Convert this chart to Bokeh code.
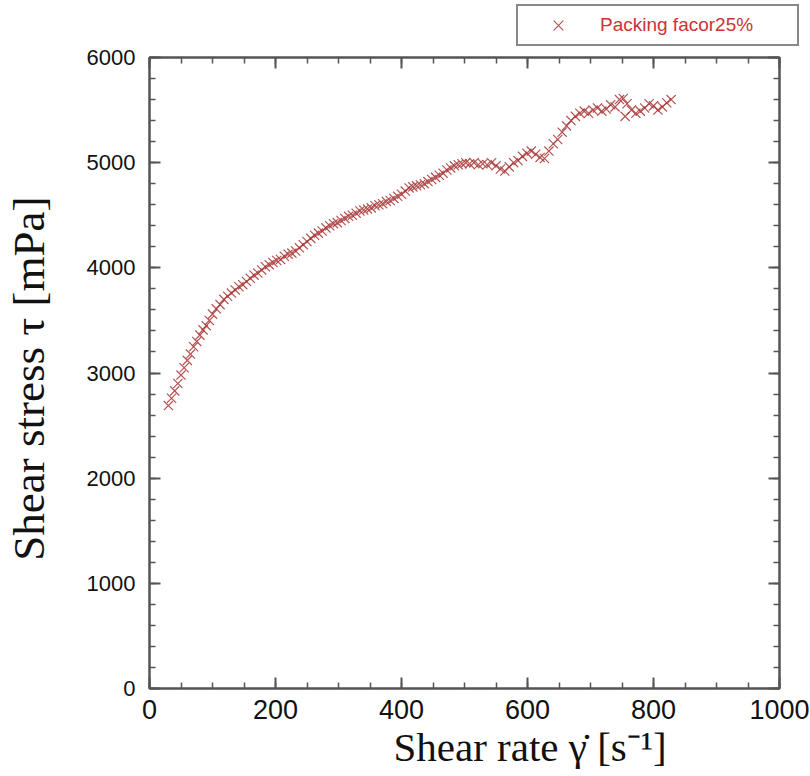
from bokeh.plotting import figure
from bokeh.layouts import column
from bokeh.models import (Range1d, LinearAxis, SingleIntervalTicker, Legend, LegendItem,
                          ColumnDataSource, Title)
from bokeh.embed import file_html
from bokeh.resources import INLINE

# Data
shear_rate = [30, 35, 40, 45, 50, 55, 60, 65, 70, 75, 80, 85, 90, 95, 100, 106, 112, 118, 124, 130,
              136, 142, 148, 154, 160, 166, 172, 178, 184, 190, 196, 202, 208, 214, 220,
              226, 232, 238, 244, 250, 256, 262, 268, 274, 280, 286, 292, 298, 304, 310, 316,
              322, 328, 334, 340, 346, 352, 358, 364, 370, 376, 382, 388, 394, 400, 406, 412,
              418, 424, 430, 436, 442, 448, 454, 460, 466, 472, 478, 484, 490, 496, 502,
              508, 515, 522, 529, 536, 543, 550, 557, 564, 571, 578, 585, 592, 599, 606, 613,
              620, 627, 634, 641, 648, 655, 662, 669, 676, 683, 690, 697, 704, 711, 718, 725,
              732, 739, 746, 752, 755, 758, 765, 772, 779, 786, 793, 800, 807, 814, 821, 828]
shear_stress = [2690, 2760, 2830, 2900, 2980, 3050, 3120, 3180, 3250, 3300, 3360, 3410, 3450, 3500,
                3560, 3610, 3650, 3700, 3730, 3760, 3790, 3820, 3840, 3870, 3900, 3930, 3950,
                3980, 4010, 4030, 4050, 4070, 4080, 4110, 4130,
                4140, 4160, 4190, 4220, 4250, 4280, 4310, 4330, 4350, 4380, 4400, 4420, 4430,
                4450, 4470, 4490, 4500, 4520, 4540, 4550, 4560, 4570, 4590, 4600, 4610, 4630,
                4640, 4660, 4680, 4700, 4730, 4760, 4770, 4780, 4790, 4800, 4820, 4840, 4860,
                4880, 4900, 4930, 4950, 4970, 4980, 4990, 5000,
                4990, 5000, 4980, 4990, 4980, 5000, 4970, 4940, 4920, 4960, 5000, 5020, 5060,
                5090, 5110, 5080, 5050, 5040, 5110, 5180, 5220, 5290, 5350, 5400, 5440, 5470,
                5490, 5470, 5500, 5520, 5490, 5510, 5550, 5530, 5600, 5610, 5440, 5560, 5500,
                5470, 5490, 5520, 5560, 5540, 5500, 5530, 5570, 5600]
series_label = "Packing facor25%"
x_title = "Shear rate  \u03b3\u0307 [s\u207b\u00b9]"
y_title = "Shear stress  \u03c4 [mPa]"

marker_color = "#a83636"

src = ColumnDataSource(dict(x=shear_rate, y=shear_stress))

# ---- main plot ----
p = figure(frame_width=630, frame_height=631, output_backend="svg", toolbar_location=None,
           x_range=Range1d(0, 1000), y_range=Range1d(0, 6000),
           min_border_left=148, min_border_right=32, min_border_top=11, min_border_bottom=80)
p.xgrid.visible = False
p.ygrid.visible = False
p.outline_line_color = "#555555"
p.outline_line_width = 2
p.background_fill_color = "white"
p.border_fill_color = "white"

r = p.scatter("x", "y", source=src, marker="x", size=13, line_color=marker_color,
              line_alpha=0.85, line_width=1.2)

axis_color = "#555555"

def style_axis(ax, label_size):
    ax.axis_line_color = axis_color
    ax.axis_line_width = 2
    ax.major_tick_line_color = axis_color
    ax.minor_tick_line_color = axis_color
    ax.major_tick_line_width = 2
    ax.minor_tick_line_width = 1.5
    ax.major_tick_in = 11
    ax.major_tick_out = 0
    ax.minor_tick_in = 6
    ax.minor_tick_out = 0
    ax.major_label_text_font = "Liberation Sans"
    ax.major_label_text_font_size = label_size
    ax.major_label_text_color = "#111111"

xa = p.xaxis[0]
xa.ticker = SingleIntervalTicker(interval=200, num_minor_ticks=4)
style_axis(xa, "27px")
xa.major_label_standoff = 11

ya = p.yaxis[0]
ya.ticker = SingleIntervalTicker(interval=1000, num_minor_ticks=5)
style_axis(ya, "22px")
ya.major_label_standoff = 14
ya.axis_label = y_title
ya.axis_label_text_font = "Liberation Serif"
ya.axis_label_text_font_size = "45px"
ya.axis_label_text_font_style = "normal"
ya.axis_label_text_color = "#111111"
ya.axis_label_standoff = 30

# x-axis title, placed below the tick labels (shifted right as in the reference)
xtitle = Title(text=x_title, align="left", offset=244, standoff=0,
               text_font="Liberation Serif", text_font_size="41px",
               text_font_style="normal", text_color="#111111")
p.add_layout(xtitle, "below")

top = LinearAxis(ticker=SingleIntervalTicker(interval=200, num_minor_ticks=4))
style_axis(top, "0px")
top.major_label_standoff = 0
p.add_layout(top, "above")
right = LinearAxis(ticker=SingleIntervalTicker(interval=1000, num_minor_ticks=5))
style_axis(right, "0px")
right.major_label_standoff = 0
p.add_layout(right, "right")

# ---- legend strip above the plot ----
lg = figure(width=810, height=46, output_backend="svg", toolbar_location=None,
            x_range=Range1d(0, 1), y_range=Range1d(0, 1),
            x_axis_type=None, y_axis_type=None,
            min_border_left=0, min_border_right=0, min_border_top=0, min_border_bottom=0)
lg.xgrid.visible = False
lg.ygrid.visible = False
lg.outline_line_color = None
lg.background_fill_color = "white"
lg.border_fill_color = "white"
for fig in (lg, p):
    try:
        fig.frame_align = False
    except Exception:
        pass
# legend proxy glyph (kept outside the visible range of the legend strip)
dummy = lg.scatter(x=[5], y=[5], marker="x", size=13, line_color=marker_color,
                   line_alpha=0.85, line_width=1.2)

legend = Legend(items=[LegendItem(label=series_label, renderers=[dummy])],
                location=(516, 0), orientation="vertical",
                border_line_color="#111111", border_line_width=2,
                background_fill_color="white", background_fill_alpha=1,
                label_text_font="Liberation Sans", label_text_font_size="19px",
                label_text_color="#cc3333",
                padding=2, spacing=0, margin=0,
                glyph_width=76, glyph_height=34, label_height=34,
                label_standoff=4, label_width=195)
lg.add_layout(legend, "center")

layout = column(lg, p, spacing=0)
open("out.html", "w").write(file_html(layout, INLINE))
